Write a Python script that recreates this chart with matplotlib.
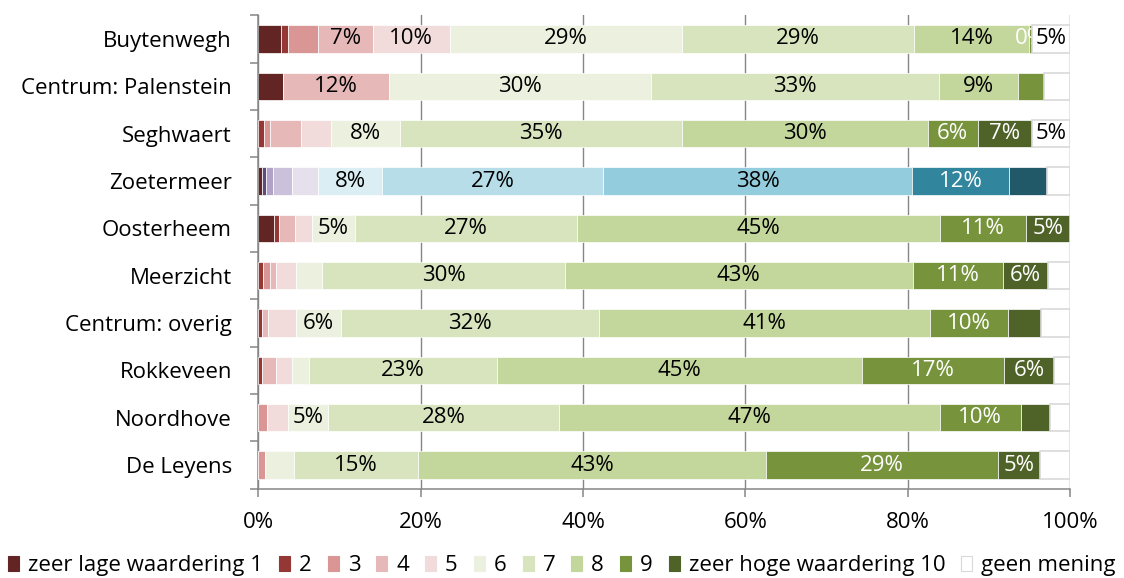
import numpy as np
import matplotlib
matplotlib.use("Agg")
import matplotlib.pyplot as plt
from matplotlib.patches import Patch

plt.rcParams['font.family'] = ['Open Sans', 'DejaVu Sans']

buurten = ["Buytenwegh", "Centrum: Palenstein", "Seghwaert", "Zoetermeer", "Oosterheem",
           "Meerzicht", "Centrum: overig", "Rokkeveen", "Noordhove", "De Leyens"]

series = ["zeer lage waardering 1", "2", "3", "4", "5", "6", "7", "8", "9",
          "zeer hoge waardering 10", "geen mening"]

# share of each score per buurt (top to bottom), as drawn in the 100% bars
w1 = [2.8, 3.1, 0.0, 0.5, 1.9, 0.0, 0.0, 0.0, 0.0, 0.0]
w2 = [0.8, 0.0, 0.7, 0.4, 0.6, 0.6, 0.5, 0.4, 0.0, 0.0]
w3 = [3.8, 0.0, 0.7, 0.9, 0.0, 0.9, 0.0, 0.0, 1.1, 0.8]
w4 = [6.7, 13.0, 3.8, 2.4, 2.0, 0.7, 0.7, 1.8, 0.0, 0.0]
w5 = [9.5, 0.0, 3.7, 3.1, 2.1, 2.5, 3.5, 2.0, 2.5, 0.0]
w6 = [28.6, 32.3, 8.5, 8.0, 5.3, 3.2, 5.5, 2.0, 5.0, 3.6]
w7 = [28.6, 35.5, 34.8, 27.2, 27.4, 29.9, 31.8, 23.2, 28.5, 15.3]
w8 = [14.2, 9.7, 30.3, 38.0, 44.7, 42.8, 40.7, 45.0, 46.9, 42.8]
w9 = [0.3, 3.2, 6.1, 12.0, 10.6, 11.2, 9.7, 17.5, 9.9, 28.6]
w10 = [0.0, 0.0, 6.7, 4.6, 5.4, 5.5, 4.0, 6.1, 3.6, 5.2]
geen = [4.7, 3.2, 4.7, 2.9, 0.0, 2.7, 3.6, 2.0, 2.5, 3.7]

# data labels as printed in the chart
l1 = [""] * 10
l2 = [""] * 10
l3 = [""] * 10
l4 = ["7%", "12%", "", "", "", "", "", "", "", ""]
l5 = ["10%", "", "", "", "", "", "", "", "", ""]
l6 = ["29%", "30%", "8%", "8%", "5%", "", "6%", "", "5%", ""]
l7 = ["29%", "33%", "35%", "27%", "27%", "30%", "32%", "23%", "28%", "15%"]
l8 = ["14%", "9%", "30%", "38%", "45%", "43%", "41%", "45%", "47%", "43%"]
l9 = ["0%", "", "6%", "12%", "11%", "11%", "10%", "17%", "10%", "29%"]
l10 = ["", "", "7%", "", "5%", "6%", "", "6%", "", "5%"]
lgeen = ["5%", "", "5%", "", "", "", "", "", "", ""]

widths = [w1, w2, w3, w4, w5, w6, w7, w8, w9, w10, geen]
labels = [l1, l2, l3, l4, l5, l6, l7, l8, l9, l10, lgeen]

colors = ["#632523", "#953735", "#d99694", "#e6b9b8", "#f2dcdb", "#ebf1de",
          "#d7e4bd", "#c3d69b", "#77933c", "#4f6228", "#ffffff"]
# Zoetermeer as a whole gets its own palette
colors_zm = ["#632523", "#604a7b", "#b3a2c7", "#ccc1da", "#e5e0ec", "#dbeef4",
             "#b7dee8", "#93cddd", "#31859c", "#215968", "#ffffff"]
text_colors = ["black"] * 8 + ["white", "white", "black"]

grey = "#868686"
fs = 16

fig = plt.figure(figsize=(11.24, 5.78), dpi=100)
ax = fig.add_axes([0.2298, 0.1545, 0.952 - 0.2298, 0.9735 - 0.1545])

y = np.arange(len(buurten))
left = np.zeros(len(buurten))
for i, w in enumerate(widths):
    w = np.array(w)
    cols = [colors_zm[i] if b == "Zoetermeer" else colors[i] for b in buurten]
    ec = "#d9d9d9" if i == len(widths) - 1 else "white"
    lw = 1.2 if i == len(widths) - 1 else 0.5
    ax.barh(y, w, left=left, height=0.58, color=cols, edgecolor=ec, linewidth=lw,
            zorder=2 + 2 * i)
    for j in range(len(buurten)):
        if labels[i][j]:
            ax.text(left[j] + w[j] / 2, y[j], labels[i][j], ha="center", va="center",
                    fontsize=fs, color=text_colors[i], zorder=3 + 2 * i)
    left += w

ax.set_xlim(0, 100)
ax.set_ylim(len(buurten) - 0.5, -0.5)
ax.set_xticks([0, 20, 40, 60, 80, 100])
ax.set_xticklabels(["0%", "20%", "40%", "60%", "80%", "100%"])
ax.set_yticks(y)
ax.set_yticklabels(buurten)
ax.set_yticks(np.arange(-0.5, len(buurten)), minor=True)
ax.tick_params(axis="y", which="major", length=0, pad=19, labelsize=fs)
ax.tick_params(axis="y", which="minor", length=6, width=1.1, color=grey)
ax.tick_params(axis="x", length=6, width=1.1, color=grey, pad=11, labelsize=fs)

ax.grid(axis="x", color=grey, linewidth=1.0)
ax.set_axisbelow(True)
for s in ["top", "right"]:
    ax.spines[s].set_visible(False)
for s in ["left", "bottom"]:
    ax.spines[s].set_color(grey)
    ax.spines[s].set_linewidth(1.1)

handles = [Patch(facecolor=c, edgecolor=("#d9d9d9" if c == "#ffffff" else c), linewidth=0.8)
           for c in colors]
fig.legend(handles, series, loc="center", bbox_to_anchor=(0.5, 0.021), ncol=11,
           frameon=False, fontsize=fs, handlelength=0.5, handleheight=0.6,
           handletextpad=0.4, columnspacing=0.72, borderaxespad=0)

fig.savefig("out.png", dpi=100)
